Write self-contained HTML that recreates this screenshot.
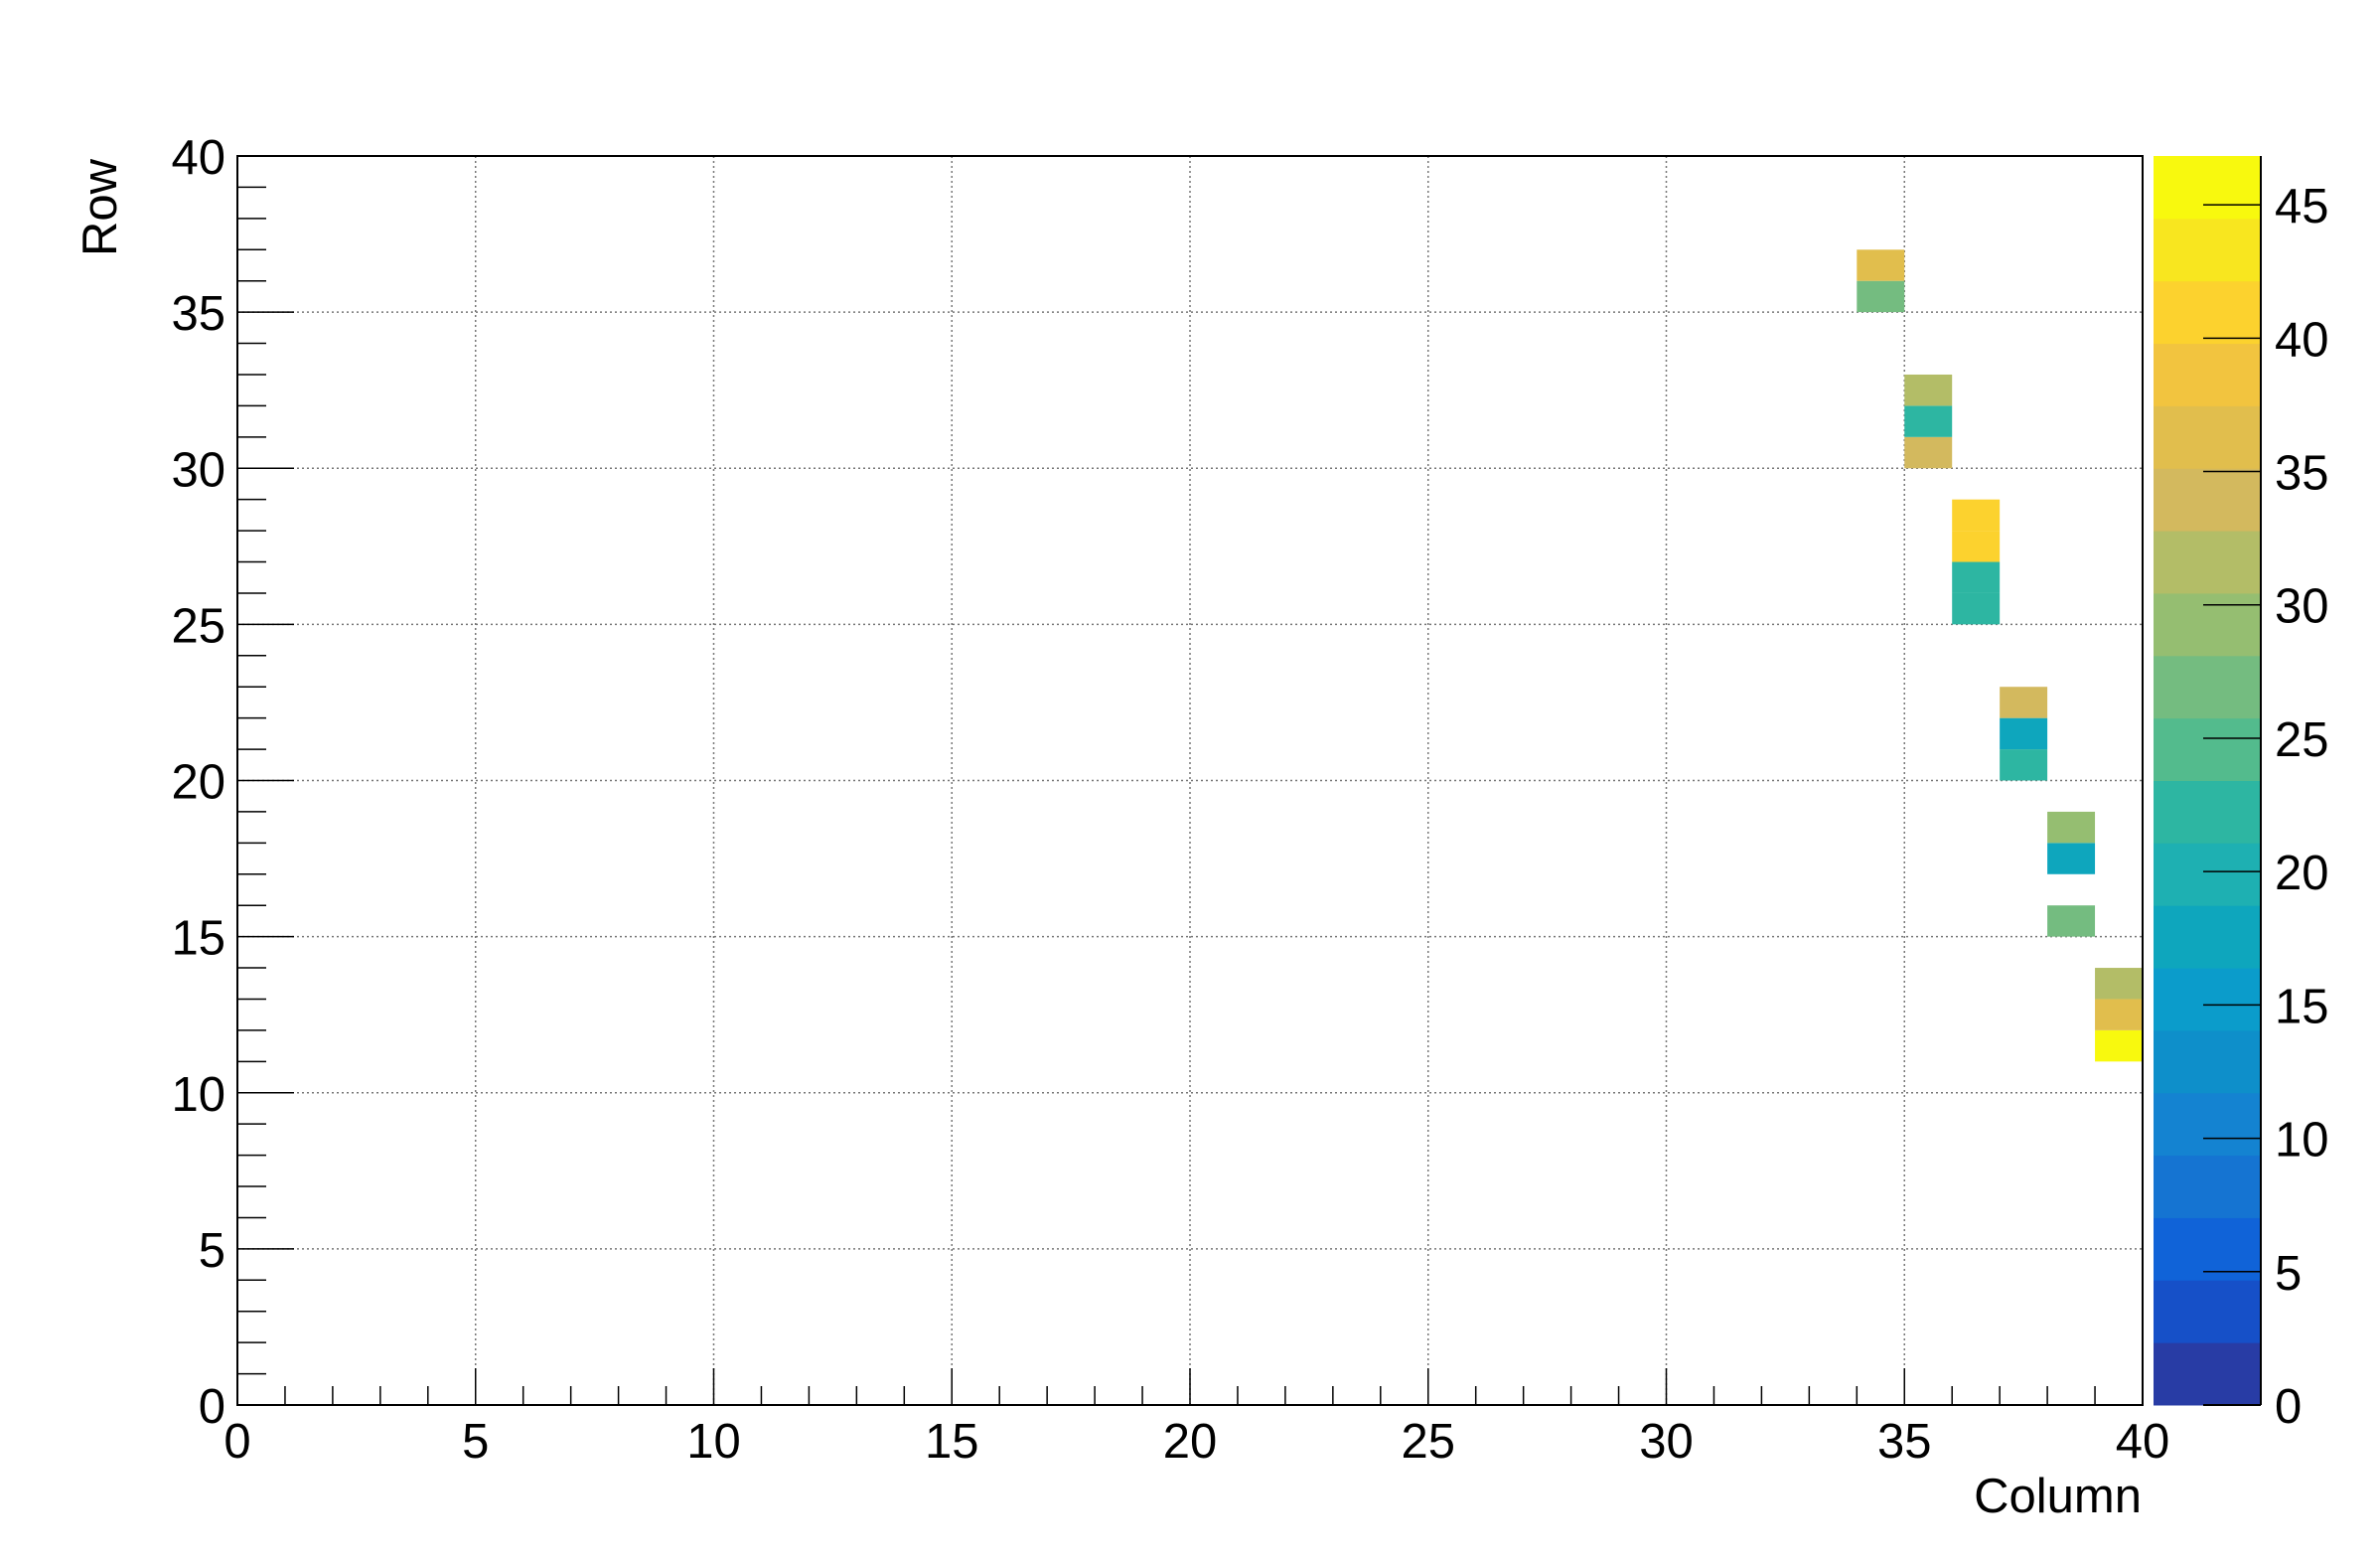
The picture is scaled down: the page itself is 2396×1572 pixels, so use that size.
<!DOCTYPE html>
<html><head><meta charset="utf-8"><style>
html,body{margin:0;padding:0;background:#fff;}
svg{display:block;font-family:"Liberation Sans",Arial,sans-serif;}
</style></head><body>
<svg id="chart" width="2396" height="1572" viewBox="0 0 2396 1572" xmlns="http://www.w3.org/2000/svg">
<rect x="0" y="0" width="2396" height="1572" fill="#fff"/>
<g id="grid"></g>
<g id="cells"></g>
<g id="axes"></g>
<g id="cbar"></g>
<text x="2156" y="1522" font-size="49" text-anchor="end">Column</text>
<text transform="translate(117,160) rotate(-90)" font-size="49" text-anchor="end">Row</text>
</svg>
<script>
const cellCols = [34,34,35,35,35,36,36,36,36,37,37,37,38,38,38,39,39,39];
const cellRows = [35,36,30,31,32,25,26,27,28,20,21,22,15,17,18,11,12,13];
const cellValues = [27,36,34,22,31.5,22,22,41,41,22,17.5,34,27,17.5,29,46,36,31.5];
const xTicks = [0,5,10,15,20,25,30,35,40];
const yTicks = [0,5,10,15,20,25,30,35,40];
const zTicks = [0,5,10,15,20,25,30,35,40,45];
const palette = ["#283ca5","#1650c8","#1063d8","#1574d2","#1483d1","#0e8fca","#0b9ccb","#0ea6bd","#1eb0b2","#2db6a2","#53bb8d","#74bc80","#95be71","#b3bd67","#d3b95e","#e1be4d","#f2c43f","#fcd22e","#f8e61f","#f8f90e"];
const zMax = 46.83;

const NS="http://www.w3.org/2000/svg";
const L=239,R=2157,T=157,B=1414;
const CL=2168,CR=2276;
const sx=v=>L+(R-L)*v/40;
const sy=v=>B-(B-T)*v/40;
const sz=v=>B-(B-T)*v/zMax;
function mk(tag,attrs,parent){const e=document.createElementNS(NS,tag);for(const k in attrs)e.setAttribute(k,attrs[k]);parent.appendChild(e);return e;}
const grid=document.getElementById('grid'),cells=document.getElementById('cells'),axes=document.getElementById('axes'),cbar=document.getElementById('cbar');

// grid
for(const t of xTicks){ if(t===0||t===40) continue;
  const g=mk('line',{x1:sx(t),x2:sx(t),y1:T,y2:B,stroke:'#777','stroke-width':1.5,'stroke-dasharray':'2,3'},grid);
  
  
}
for(const t of yTicks){ if(t===0||t===40) continue;
  const g=mk('line',{x1:L,x2:R,y1:sy(t),y2:sy(t),stroke:'#777','stroke-width':1.5,'stroke-dasharray':'2,3'},grid);
  
  
}
// cells
const bandW=zMax/palette.length;
for(let i=0;i<cellValues.length;i++){
  const b=Math.min(palette.length-1,Math.floor(cellValues[i]/bandW));
  const r=mk('rect',{x:sx(cellCols[i]),y:sy(cellRows[i]+1),width:sx(cellCols[i]+1)-sx(cellCols[i]),height:sy(cellRows[i])-sy(cellRows[i]+1),fill:palette[b]},cells);
  
  
}
// frame
const fr=mk('rect',{x:L,y:T,width:R-L,height:B-T,fill:'none',stroke:'#000','stroke-width':2},axes);


// x ticks
for(let v=0;v<=40;v++){
  const len=(v%5===0)?37:19;
  mk('line',{x1:sx(v),x2:sx(v),y1:B,y2:B-len,stroke:'#000','stroke-width':1.5},axes);
}
for(const t of xTicks){
  const tx=mk('text',{x:sx(t),y:1467,'font-size':49,'text-anchor':'middle'},axes);
  tx.textContent=t;
  
  
}
// y ticks
for(let v=0;v<=40;v++){
  const len=(v%5===0)?57:29;
  mk('line',{x1:L,x2:L+len,y1:sy(v),y2:sy(v),stroke:'#000','stroke-width':1.5},axes);
}
for(const t of yTicks){
  const tx=mk('text',{x:227,y:sy(t)+18,'font-size':49,'text-anchor':'end'},axes);
  tx.textContent=t;
  
  
}
// color bar
for(let i=0;i<palette.length;i++){
  const r=mk('rect',{x:CL,y:sz((i+1)*bandW),width:CR-CL,height:sz(i*bandW)-sz((i+1)*bandW)+0.5,fill:palette[i]},cbar);
  
  
}
mk('line',{x1:CR,x2:CR,y1:T,y2:B,stroke:'#000','stroke-width':2},cbar);
mk('line',{x1:2218,x2:CR,y1:B,y2:B,stroke:'#000','stroke-width':2},cbar);
for(const t of zTicks){
  mk('line',{x1:2218,x2:CR,y1:sz(t),y2:sz(t),stroke:'#000','stroke-width':1.5},cbar);
  const tx=mk('text',{x:2290,y:sz(t)+18,'font-size':49},cbar);
  tx.textContent=t;
  
  
}
</script>
</body></html>
